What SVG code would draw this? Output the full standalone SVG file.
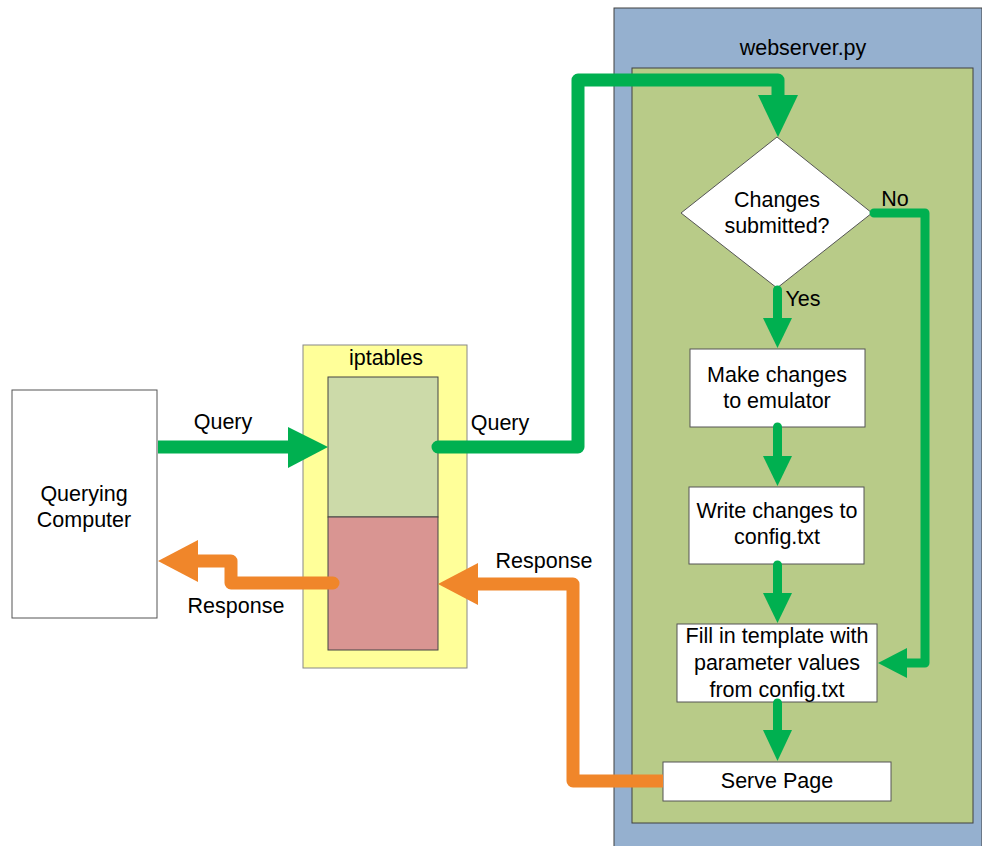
<svg xmlns="http://www.w3.org/2000/svg" width="982" height="846" viewBox="0 0 982 846">
<style>
text{font-family:"Liberation Sans",Arial,sans-serif;font-size:21.5px;fill:#000;text-anchor:middle}
.box{fill:#fff;stroke:#555;stroke-width:1}
.g{fill:none;stroke:#00B050;stroke-linejoin:round}
.gf{fill:#00B050}
.o{fill:none;stroke:#F0862A;stroke-linejoin:round}
.of{fill:#F0862A}
</style>
<rect width="982" height="846" fill="#fff"/>
<g id="webserver">
<rect x="614" y="8" width="368" height="840" fill="#95B0CF" stroke="#404040" stroke-width="1"/>
<rect x="632" y="68" width="341" height="755" fill="#B8CB88" stroke="#404040" stroke-width="1"/>
<text x="803" y="55">webserver.py</text>
</g>
<g id="computer">
<rect x="12" y="390" width="145" height="228" class="box" stroke="#777"/>
<text x="84" y="501">Querying</text>
<text x="84" y="527">Computer</text>
</g>
<g id="iptables">
<rect x="303" y="345" width="164" height="323" fill="#FFFF99" stroke="#888" stroke-width="1"/>
<rect x="328" y="377" width="110" height="140" fill="#CCDAA9" stroke="#444" stroke-width="1"/>
<rect x="328" y="517" width="110" height="133" fill="#D99592" stroke="#444" stroke-width="1"/>
<text x="386" y="365">iptables</text>
</g>
<g id="decision">
<polygon points="777,137 872,213 777,288 681,213" class="box" stroke="#333"/>
<text x="777" y="207">Changes</text>
<text x="777" y="233">submitted?</text>
</g>
<g id="make-changes">
<rect x="690" y="349" width="175" height="78" class="box"/>
<text x="777" y="382">Make changes</text>
<text x="777" y="408">to emulator</text>
</g>
<g id="write-changes">
<rect x="689" y="487" width="175" height="77" class="box"/>
<text x="777" y="518">Write changes to</text>
<text x="777" y="544">config.txt</text>
</g>
<g id="fill-template">
<rect x="677" y="624" width="200" height="78" class="box"/>
<text x="777" y="643">Fill in template with</text>
<text x="777" y="670">parameter values</text>
<text x="777" y="697">from config.txt</text>
</g>
<g id="serve-page">
<rect x="663" y="762" width="228" height="39" class="box"/>
<text x="777" y="788">Serve Page</text>
</g>
<g id="connectors">
<path d="M158 447H290" class="g" stroke-width="13"/>
<polygon points="288,427 288,468 328,447" class="gf"/>
<text x="223" y="429">Query</text>
<path d="M438 447H578V80H778V97" class="g" stroke-width="13" stroke-linecap="round"/>
<polygon points="758,95 798,95 778,137" class="gf"/>
<text x="500" y="430">Query</text>
<path d="M777.5 290V320" class="g" stroke-width="9" stroke-linecap="round"/>
<polygon points="763,318 792,318 777.5,348" class="gf"/>
<text x="803" y="306">Yes</text>
<path d="M874 213H925V663H905" class="g" stroke-width="9" stroke-linecap="round"/>
<polygon points="907,648 907,678 878,663" class="gf"/>
<text x="895" y="206">No</text>
<path d="M777.5 427V458" class="g" stroke-width="9" stroke-linecap="round"/>
<polygon points="763,456 792,456 777.5,486" class="gf"/>
<path d="M777.5 565V595" class="g" stroke-width="9" stroke-linecap="round"/>
<polygon points="763,593 792,593 777.5,623" class="gf"/>
<path d="M777.5 703V732" class="g" stroke-width="9" stroke-linecap="round"/>
<polygon points="763,730 792,730 777.5,761" class="gf"/>
<path d="M663 781H573V584H476" class="o" stroke-width="13"/>
<polygon points="478,563 478,605 438,584" class="of"/>
<text x="544" y="568">Response</text>
<path d="M333 583H231V561H196" class="o" stroke-width="13" stroke-linecap="round"/>
<polygon points="198,540 198,582 158,561" class="of"/>
<text x="236" y="613">Response</text>
</g>
</svg>
